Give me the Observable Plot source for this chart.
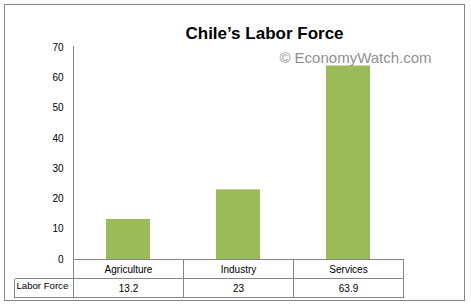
<!DOCTYPE html>
<html>
<head>
<meta charset="utf-8">
<script src="https://cdn.jsdelivr.net/npm/d3@7"></script>
<script src="https://cdn.jsdelivr.net/npm/@observablehq/plot@0.6"></script>
<style>
  html, body { margin: 0; padding: 0; background: #fff; }
  #wrap { position: relative; width: 471px; height: 307px; }
  #border { position: absolute; left: 4px; top: 4px; width: 461px; height: 297px; border: 1px solid #868686; box-sizing: border-box; }
  #wrap svg { position: absolute; left: 0; top: 0; }
</style>
</head>
<body>
<div id="wrap"><div id="border"></div></div>
<script>
const categories = ["Agriculture", "Industry", "Services"];
const values = [13.2, 23, 63.9];
const yTicks = [0, 10, 20, 30, 40, 50, 60, 70];
const seriesName = "Labor Force";
const titleText = "Chile\u2019s Labor Force";
const watermarkText = "\u00A9 EconomyWatch.com";

const data = categories.map((c, i) => ({category: c, value: values[i]}));

const gridColor = "#868686";
const rowH = 19;

function tableGrid(index, scales, vals, dims) {
  const x = scales.x, y = scales.y;
  const step = x(categories[1]) - x(categories[0]);
  const bw = typeof x.bandwidth === "function" ? x.bandwidth() : x.bandwidth;
  const pad = (step - bw) / 2;
  const edges = categories.map(c => x(c) - pad);
  edges.push(edges[edges.length - 1] + step);
  const y0 = y(0);
  const yTop = y(yTicks[yTicks.length - 1]);
  const left = edges[0], right = edges[edges.length - 1];
  const headLeft = 14;
  const g = d3.create("svg:g").attr("stroke", gridColor).attr("stroke-width", 1).attr("fill", "none").attr("shape-rendering", "crispEdges");
  const lines = [];
  lines.push([left, yTop - 2, left, y0 + 2 * rowH]);
  lines.push([left, y0, right, y0]);
  lines.push([headLeft, y0 + rowH, right, y0 + rowH]);
  lines.push([headLeft, y0 + 2 * rowH, right, y0 + 2 * rowH]);
  edges.slice(1).forEach(e => lines.push([e, y0, e, y0 + 2 * rowH]));
  lines.push([headLeft, y0 + rowH, headLeft, y0 + 2 * rowH]);
  lines.forEach(([x1, y1, x2, y2]) => {
    g.append("line").attr("x1", Math.round(x1) + 0.5).attr("y1", Math.round(y1) + 0.5)
      .attr("x2", Math.round(x2) + 0.5).attr("y2", Math.round(y2) + 0.5);
  });
  return g.node();
}

const plot = Plot.plot({
  width: 471,
  height: 307,
  marginTop: 47,
  marginBottom: 48,
  marginLeft: 73,
  marginRight: 68,
  style: {fontFamily: "'Liberation Sans', Arial, sans-serif", fontSize: "10px", background: "transparent", overflow: "visible"},
  x: {domain: categories, paddingInner: 0.6, paddingOuter: 0.3, axis: null},
  y: {domain: [0, 70], ticks: yTicks, tickSize: 0, tickPadding: 10, label: null},
  marks: [
    Plot.barY(data, {x: "category", y: "value", fill: "#9BBB59"}),
    tableGrid,
    Plot.text(data, {x: "category", y: 0, text: "category", dy: 10, fill: "#000"}),
    Plot.text(data, {x: "category", y: 0, text: d => String(d.value), dy: 10 + rowH, fill: "#000"}),
    Plot.text([seriesName], {frameAnchor: "bottom-left", textAnchor: "start", dx: -57, dy: 10 + rowH, fill: "#000", fontSize: 9.6}),
    Plot.text([titleText], {frameAnchor: "top", dx: 26, dy: -21, fontSize: 17, fontWeight: "bold", fill: "#000"}),
    Plot.text([watermarkText], {frameAnchor: "top", dx: 117, dy: 5, fontSize: 15, fill: "#909090"})
  ]
});
document.getElementById("wrap").appendChild(plot);
</script>
</body>
</html>
